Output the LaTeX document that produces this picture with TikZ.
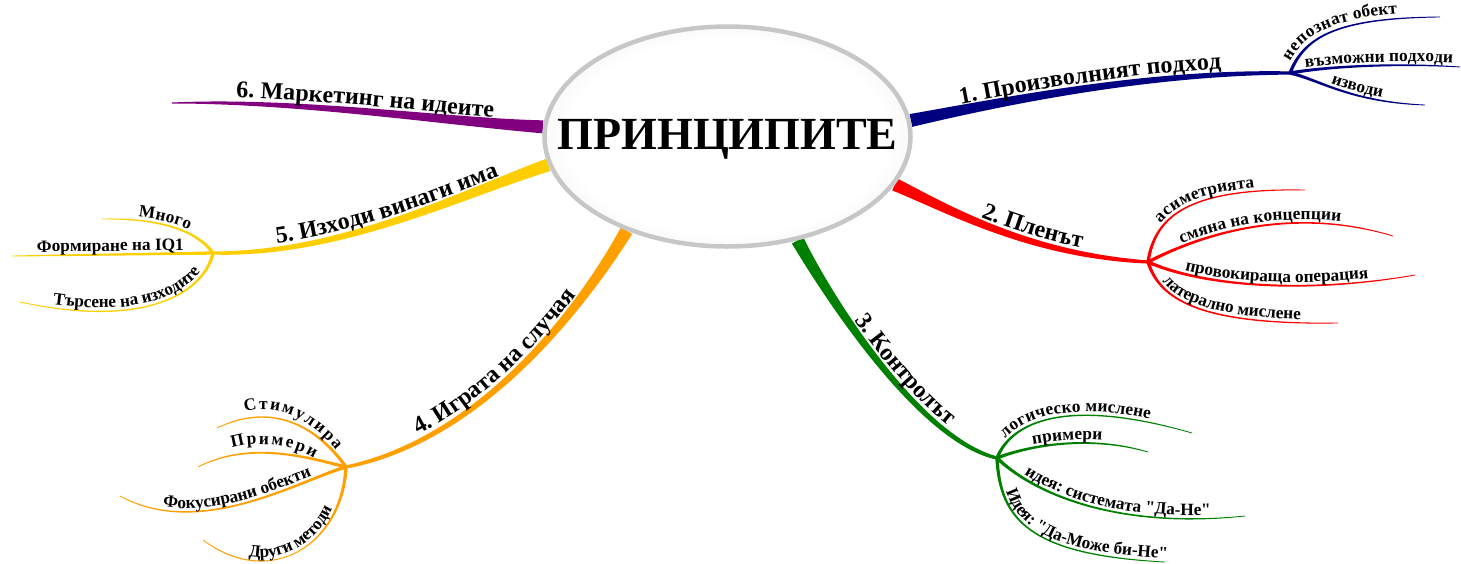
\documentclass[tikz,border=0pt]{standalone}
\usepackage{fontspec}
\setmainfont{Liberation Serif}[Ligatures=TeXOff]
\usetikzlibrary{shapes.geometric,decorations.text,calc}
\pgfdeclarelayer{bg}
\pgfsetlayers{bg,main}
\definecolor{cblue}{RGB}{0,0,128}
\definecolor{cred}{RGB}{255,0,0}
\definecolor{cgreen}{RGB}{0,128,0}
\definecolor{corange}{RGB}{255,160,0}
\definecolor{cyellow}{RGB}{255,206,0}
\definecolor{cpurple}{RGB}{128,0,128}
\pgfdeclareradialshading{ctrshade}{\pgfpoint{0bp}{0bp}}{color(0bp)=(white); color(22bp)=(white); color(50bp)=(black!20)}
\newcommand{\mfnt}{\fontsize{24}{24}\selectfont\bfseries}
\newcommand{\sfnt}{\fontsize{17.3}{17.3}\selectfont\bfseries}
% tapered branch: colour, start, ctrl1, ctrl2, end, half widths (start, middle, end)
\newcommand{\tbranch}[8]{%
  \fill[#1] ($(#2)!#6!90:(#3)$)
    .. controls ($(#3)!#7!-90:(#2)$) and ($(#4)!#7!90:(#5)$)
    .. ($(#5)!#8!-90:(#4)$)
    -- ($(#5)!#8!90:(#4)$)
    .. controls ($(#4)!#7!-90:(#5)$) and ($(#3)!#7!90:(#2)$)
    .. ($(#2)!#6!-90:(#3)$) -- cycle;}
\newcommand{\ctext}[4]{\path[decorate,decoration={text along path,raise=#1,text align={left indent=#2},text={#3}}] #4;}
\newcommand{\ftext}[2]{\path[decorate,decoration={text along path,text align={fit to path},text={#1}}] #2;}
\begin{document}
\begin{tikzpicture}[x=1pt,y=-1pt]
\useasboundingbox (0,0) rectangle (1461,563);
\node[ellipse, minimum width=366pt, minimum height=220pt, inner sep=0pt, draw=black!22, line width=4.5pt, shade, shading=ctrshade] (ctr) at (727.5,136.5) {};
\node[font=\fontsize{46}{46}\selectfont\bfseries, inner sep=0pt] (ttl) at (727.5,139) {ПРИНЦИПИТЕ};
\coordinate (b1) at (1290,73);
\coordinate (b2) at (1148,262);
\coordinate (b3) at (997,458);
\coordinate (b4) at (346,467);
\coordinate (b5) at (213,253);
\coordinate (b6) at (172,103);
\coordinate (e1a) at (1440,17);
\coordinate (e1b) at (1460,67);
\coordinate (e1c) at (1425,105);
\coordinate (e2a) at (1305,190);
\coordinate (e2b) at (1393,236);
\coordinate (e2c) at (1415,275);
\coordinate (e2d) at (1338,323);
\coordinate (e3a) at (1192,433);
\coordinate (e3b) at (1148,452);
\coordinate (e3c) at (1245,516);
\coordinate (e3d) at (1165,562);
\coordinate (e4a) at (217,428);
\coordinate (e4b) at (198,467);
\coordinate (e4c) at (120,496);
\coordinate (e4d) at (203,540);
\coordinate (e5a) at (102,219);
\coordinate (e5b) at (12,256);
\coordinate (e5c) at (20,302);
\begin{pgfonlayer}{bg}
\tbranch{cblue}{ctr.5}{1010,100}{1150,72}{b1}{6.5pt}{3.5pt}{1.6pt}
\tbranch{cred}{ctr.-16}{950,210}{1030,255}{b2}{6.5pt}{3.5pt}{1.6pt}
\tbranch{cgreen}{ctr.-56}{830,300}{920,440}{b3}{6.5pt}{3.5pt}{1.6pt}
\tbranch{corange}{ctr.-137}{580,310}{480,440}{b4}{6.5pt}{3.5pt}{1.6pt}
\tbranch{cyellow}{ctr.-171}{460,195}{340,255}{b5}{6.5pt}{3.5pt}{1.6pt}
\tbranch{cpurple}{ctr.177}{450,122}{300,100}{b6}{6.5pt}{3.5pt}{0.5pt}
\tbranch{cblue}{b1}{1305,35}{1340,18}{e1a}{1.7pt}{1.1pt}{0.4pt}
\tbranch{cblue}{b1}{1330,66}{1400,63}{e1b}{1.7pt}{1.1pt}{0.4pt}
\tbranch{cblue}{b1}{1320,80}{1350,102}{e1c}{1.7pt}{1.1pt}{0.4pt}
\tbranch{cred}{b2}{1155,215}{1190,188}{e2a}{1.7pt}{1.1pt}{0.4pt}
\tbranch{cred}{b2}{1200,235}{1290,205}{e2b}{1.7pt}{1.1pt}{0.4pt}
\tbranch{cred}{b2}{1200,285}{1300,295}{e2c}{1.7pt}{1.1pt}{0.4pt}
\tbranch{cred}{b2}{1160,300}{1200,325}{e2d}{1.7pt}{1.1pt}{0.4pt}
\tbranch{cgreen}{b3}{1010,425}{1060,395}{e3a}{1.7pt}{1.1pt}{0.4pt}
\tbranch{cgreen}{b3}{1030,445}{1090,435}{e3b}{1.7pt}{1.1pt}{0.4pt}
\tbranch{cgreen}{b3}{1030,490}{1110,530}{e3c}{1.7pt}{1.1pt}{0.4pt}
\tbranch{cgreen}{b3}{1000,520}{1030,555}{e3d}{1.7pt}{1.1pt}{0.4pt}
\tbranch{corange}{b4}{320,430}{275,400}{e4a}{1.7pt}{1.1pt}{0.4pt}
\tbranch{corange}{b4}{310,458}{250,440}{e4b}{1.7pt}{1.1pt}{0.4pt}
\tbranch{corange}{b4}{300,480}{200,540}{e4c}{1.7pt}{1.1pt}{0.4pt}
\tbranch{corange}{b4}{342,545}{270,590}{e4d}{1.7pt}{1.1pt}{0.4pt}
\tbranch{cyellow}{b5}{200,235}{170,218}{e5a}{1.7pt}{1.1pt}{0.4pt}
\tbranch{cyellow}{b5}{150,254}{80,255}{e5b}{1.7pt}{1.1pt}{0.4pt}
\tbranch{cyellow}{b5}{205,290}{150,330}{e5c}{1.7pt}{1.1pt}{0.4pt}
\end{pgfonlayer}
% main labels
\ctext{6pt}{52pt}{|\mfnt|1. Произволният подход}{(ctr.5) .. controls (1010,100) and (1150,72) .. (b1)}
\ctext{6pt}{92pt}{|\mfnt|2. Пленът}{(ctr.-16) .. controls (950,210) and (1030,255) .. (b2)}
\ctext{6pt}{98pt}{|\mfnt|3. Контролът}{(ctr.-56) .. controls (830,300) and (920,440) .. (b3)}
\ctext{6pt}{80pt}{|\mfnt|4. Играта на случая}{(b4) .. controls (480,440) and (580,310) .. (ctr.-137)}
\ctext{6pt}{65pt}{|\mfnt|5. Изходи винаги има}{(b5) .. controls (340,255) and (460,195) .. (ctr.-171)}
\ctext{6pt}{64pt}{|\mfnt|6. Маркетинг на идеите}{(b6) .. controls (300,100) and (450,122) .. (ctr.177)}
% sub labels
\ctext{5pt}{10pt}{|\sfnt|непознат обект}{(b1) .. controls (1305,35) and (1340,18) .. (e1a)}
\ctext{3.5pt}{16pt}{|\sfnt|възможни подходи}{(b1) .. controls (1330,66) and (1400,63) .. (e1b)}
\ctext{3.5pt}{42pt}{|\sfnt|изводи}{(b1) .. controls (1320,80) and (1350,102) .. (e1c)}
\ctext{3.5pt}{40pt}{|\sfnt|асиметрията}{(b2) .. controls (1155,215) and (1190,188) .. (e2a)}
\ctext{3.5pt}{38pt}{|\sfnt|смяна на концепции}{(b2) .. controls (1200,235) and (1290,205) .. (e2b)}
\ctext{3.5pt}{38pt}{|\sfnt|провокираща операция}{(b2) .. controls (1200,285) and (1300,295) .. (e2c)}
\ctext{3.5pt}{25pt}{|\sfnt|латерално мислене}{(b2) .. controls (1160,300) and (1200,325) .. (e2d)}
\ctext{3.5pt}{20pt}{|\sfnt|логическо мислене}{(b3) .. controls (1010,425) and (1060,395) .. (e3a)}
\ctext{3.5pt}{38pt}{|\sfnt|примери}{(b3) .. controls (1030,445) and (1090,435) .. (e3b)}
\ctext{3.5pt}{32pt}{|\sfnt|идея: системата "Да-Не"}{(b3) .. controls (1030,490) and (1110,530) .. (e3c)}
\ctext{3.5pt}{35pt}{|\sfnt|Идея: "Да-Може би-Не"}{(b3) .. controls (1000,520) and (1030,555) .. (e3d) -- ++(60,0)}
\ftext{|\sfnt|Стимулира}{(245,412) .. controls (275,403) and (310,418) .. (336,450)}
\ftext{|\sfnt|Примери}{(232,448) .. controls (255,441) and (290,443) .. (314,458)}
\ctext{3.5pt}{45pt}{|\sfnt|Фокусирани обекти}{(e4c) .. controls (200,540) and (300,480) .. (b4)}
\ctext{3.5pt}{50pt}{|\sfnt|Други методи}{(e4d) .. controls (270,590) and (342,545) .. (b4)}
\ctext{3.5pt}{36pt}{|\sfnt|Много}{(e5a) .. controls (170,218) and (200,235) .. (b5)}
\ctext{3.5pt}{25pt}{|\sfnt|Формиране на IQ1}{(e5b) .. controls (80,255) and (150,254) .. (b5)}
\ctext{3.5pt}{33pt}{|\sfnt|Търсене на изходите}{(e5c) .. controls (150,330) and (205,290) .. (b5)}
\end{tikzpicture}
\end{document}
